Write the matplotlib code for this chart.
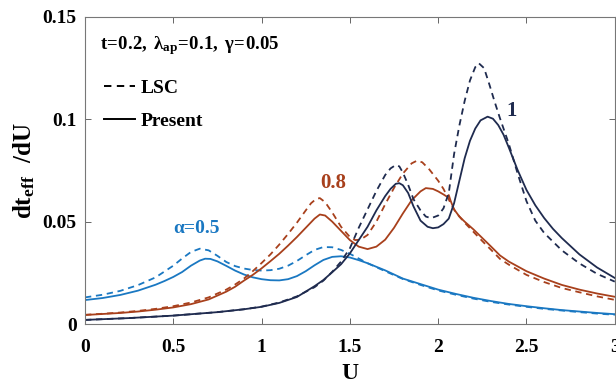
import matplotlib
matplotlib.use("Agg")
import matplotlib.pyplot as plt

plt.rcParams['font.family'] = ['Liberation Serif', 'DejaVu Serif']
plt.rcParams['font.weight'] = 'bold'
plt.rcParams['mathtext.fontset'] = 'custom'
plt.rcParams['mathtext.rm'] = 'Liberation Serif:bold'
plt.rcParams['mathtext.it'] = 'Liberation Serif:bold'
plt.rcParams['mathtext.bf'] = 'Liberation Serif:bold'

# ---- data ----
# alpha = 0.5
u_a05_present = [0, 0.1, 0.2, 0.3, 0.4, 0.45, 0.5, 0.55, 0.6, 0.65, 0.68, 0.71, 0.75, 0.8, 0.85, 0.9, 0.95, 1.0,
                 1.05, 1.1, 1.15, 1.2, 1.25, 1.3, 1.35, 1.4, 1.45, 1.5, 1.55, 1.6, 1.7, 1.8, 1.9, 2.0, 2.1, 2.2,
                 2.3, 2.4, 2.5, 2.6, 2.7, 2.8, 2.9, 3.0]
v_a05_present = [0.0117, 0.0127, 0.0142, 0.0163, 0.0192, 0.0210, 0.0230, 0.0254, 0.0285, 0.0310, 0.0319, 0.0318,
                 0.0306, 0.0284, 0.0261, 0.0242, 0.0228, 0.0219, 0.0214, 0.0213, 0.0219, 0.0234, 0.0258, 0.0287,
                 0.0313, 0.0328, 0.0331, 0.0325, 0.0312, 0.0297, 0.0262, 0.0222, 0.0195, 0.0168, 0.0147, 0.0128,
                 0.0112, 0.0098, 0.0087, 0.0077, 0.0068, 0.0061, 0.0054, 0.0048]
u_a05_lsc = [0, 0.1, 0.2, 0.3, 0.4, 0.5, 0.55, 0.6, 0.65, 0.7, 0.75, 0.8, 0.85, 0.9, 0.95, 1.0, 1.05, 1.1, 1.15,
             1.2, 1.25, 1.3, 1.35, 1.4, 1.45, 1.5, 1.55, 1.6, 1.7, 1.8, 1.9, 2.0, 2.1, 2.2, 2.3, 2.4, 2.5, 2.6,
             2.7, 2.8, 2.9, 3.0]
v_a05_lsc = [0.0130, 0.0143, 0.0162, 0.0190, 0.0228, 0.0285, 0.0320, 0.0352, 0.0368, 0.0360, 0.0333, 0.0303,
             0.0283, 0.0271, 0.0264, 0.0261, 0.0263, 0.0270, 0.0285, 0.0308, 0.0336, 0.0362, 0.0376, 0.0375,
             0.0362, 0.0343, 0.0320, 0.0297, 0.0258, 0.0220, 0.0191, 0.0164, 0.0143, 0.0124, 0.0108, 0.0095,
             0.0084, 0.0074, 0.0066, 0.0058, 0.0051, 0.0045]

# alpha = 0.8
u_a08_present = [0, 0.1, 0.2, 0.3, 0.4, 0.5, 0.6, 0.7, 0.8, 0.85, 0.9, 0.95, 1.0, 1.05, 1.1, 1.15, 1.2, 1.25, 1.3,
                 1.33, 1.36, 1.4, 1.45, 1.5, 1.55, 1.6, 1.65, 1.7, 1.75, 1.8, 1.85, 1.9, 1.93, 1.97, 2.0, 2.03,
                 2.05, 2.06, 2.07, 2.09, 2.12, 2.15, 2.2, 2.25, 2.3, 2.35, 2.4, 2.5, 2.6, 2.7, 2.8, 2.9, 3.0]
v_a08_present = [0.0044, 0.0049, 0.0054, 0.0061, 0.0070, 0.0081, 0.0097, 0.0120, 0.0158, 0.0182, 0.0212, 0.0240,
                 0.0272, 0.0307, 0.0343, 0.0383, 0.0425, 0.0470, 0.0515, 0.0535, 0.0530, 0.0500, 0.0455, 0.0410,
                 0.0378, 0.0366, 0.0378, 0.0412, 0.0470, 0.0540, 0.0605, 0.0648, 0.0664, 0.0660, 0.0648, 0.0633,
                 0.0622, 0.0630, 0.0603, 0.0560, 0.0525, 0.0500, 0.0462, 0.0420, 0.0378, 0.0335, 0.0305, 0.0258,
                 0.0222, 0.0191, 0.0168, 0.0149, 0.0133]
u_a08_lsc = [0, 0.1, 0.2, 0.3, 0.4, 0.5, 0.6, 0.7, 0.8, 0.85, 0.9, 0.95, 1.0, 1.05, 1.1, 1.15, 1.2, 1.25, 1.28,
             1.31, 1.33, 1.36, 1.4, 1.45, 1.5, 1.53, 1.56, 1.6, 1.65, 1.7, 1.75, 1.8, 1.85, 1.88, 1.91, 1.95,
             2.0, 2.03, 2.055, 2.07, 2.1, 2.15, 2.2, 2.25, 2.3, 2.35, 2.4, 2.5, 2.6, 2.7, 2.8, 2.9, 3.0]
v_a08_lsc = [0.0045, 0.0050, 0.0056, 0.0064, 0.0074, 0.0087, 0.0105, 0.0130, 0.0168, 0.0193, 0.0222, 0.0258,
             0.0298, 0.0340, 0.0388, 0.0440, 0.0495, 0.0555, 0.0590, 0.0612, 0.0615, 0.0595, 0.0545, 0.0475,
             0.0425, 0.0410, 0.0412, 0.0435, 0.0500, 0.0585, 0.0665, 0.0735, 0.0785, 0.0798, 0.0790, 0.0755,
             0.0700, 0.0660, 0.0618, 0.0590, 0.0545, 0.0495, 0.0450, 0.0405, 0.0362, 0.0318, 0.0290, 0.0240,
             0.0205, 0.0176, 0.0155, 0.0135, 0.0118]

# alpha = 1
u_a1_present = [0, 0.25, 0.5, 0.75, 0.9, 1.0, 1.1, 1.2, 1.3, 1.35, 1.4, 1.45, 1.5, 1.55, 1.6, 1.65, 1.7, 1.73,
                1.76, 1.78, 1.8, 1.83, 1.86, 1.9, 1.94, 1.97, 2.0, 2.03, 2.06, 2.09, 2.12, 2.15, 2.18, 2.21,
                2.24, 2.28, 2.31, 2.34, 2.37, 2.4, 2.45, 2.5, 2.55, 2.6, 2.65, 2.7, 2.8, 2.9, 3.0]
v_a1_present = [0.0020, 0.0029, 0.0041, 0.0058, 0.0072, 0.0084, 0.0103, 0.0132, 0.0185, 0.0215, 0.0253, 0.0292,
                0.0345, 0.0410, 0.0475, 0.0555, 0.0625, 0.0660, 0.0685, 0.0688, 0.0678, 0.0640, 0.0575, 0.0505,
                0.0475, 0.0468, 0.0472, 0.0488, 0.0515, 0.0590, 0.0700, 0.0810, 0.0895, 0.0955, 0.0995, 0.1013,
                0.1003, 0.0972, 0.0925, 0.0862, 0.0752, 0.0655, 0.0580, 0.0518, 0.0465, 0.0420, 0.0340, 0.0276,
                0.0225]
u_a1_lsc = [0, 0.25, 0.5, 0.75, 0.9, 1.0, 1.1, 1.2, 1.3, 1.35, 1.4, 1.45, 1.5, 1.55, 1.6, 1.65, 1.7, 1.73, 1.76,
            1.78, 1.8, 1.83, 1.86, 1.9, 1.93, 1.96, 2.0, 2.03, 2.06, 2.09, 2.12, 2.15, 2.18, 2.21, 2.23, 2.26,
            2.29, 2.32, 2.35, 2.4, 2.45, 2.5, 2.55, 2.6, 2.7, 2.8, 2.9, 3.0]
v_a1_lsc = [0.0020, 0.0029, 0.0041, 0.0058, 0.0072, 0.0085, 0.0105, 0.0135, 0.0180, 0.0212, 0.0255, 0.0305,
            0.0370, 0.0470, 0.0560, 0.0650, 0.0728, 0.0760, 0.0777, 0.0770, 0.0740, 0.0680, 0.0610, 0.0555,
            0.0525, 0.0517, 0.0530, 0.0565, 0.0640, 0.0830, 0.0970, 0.1090, 0.1190, 0.1255, 0.1274, 0.1250,
            0.1170, 0.1085, 0.1005, 0.0880, 0.0735, 0.0600, 0.0505, 0.0445, 0.0360, 0.0296, 0.0245, 0.0207]

x_ticks = [0, 0.5, 1, 1.5, 2, 2.5, 3]
x_ticklabels = ['0', '0.5', '1', '1.5', '2', '2.5', '3']
y_ticks = [0, 0.05, 0.1, 0.15]
y_ticklabels = ['0', '0.05', '0.1', '0.15']

c_blue = '#1a78c2'
c_red = '#a8401c'
c_navy = '#1f2b4f'

fig = plt.figure(figsize=(6.16, 3.86), dpi=100)
ax = fig.add_axes([0.138, 0.1606, 0.86, 0.7954])

lw = 1.3
dsh = (3.5, 2.6)
ax.plot(u_a05_lsc, v_a05_lsc, '--', color=c_blue, lw=lw, dashes=dsh)
ax.plot(u_a05_present, v_a05_present, '-', color=c_blue, lw=lw)
ax.plot(u_a08_lsc, v_a08_lsc, '--', color=c_red, lw=lw, dashes=dsh)
ax.plot(u_a08_present, v_a08_present, '-', color=c_red, lw=lw)
ax.plot(u_a1_lsc, v_a1_lsc, '--', color=c_navy, lw=lw, dashes=dsh)
ax.plot(u_a1_present, v_a1_present, '-', color=c_navy, lw=lw)

# legend proxies
ax.plot([], [], '--', color='black', lw=1.4, dashes=(3.8, 2.8), label='LSC')
ax.plot([], [], '-', color='black', lw=1.4, label='Present')
ax.legend(loc='center left', frameon=False, fontsize=14, handlelength=1.6, handletextpad=0.3,
          labelspacing=0.8, borderpad=0, borderaxespad=0, bbox_to_anchor=(0.036, 0.715))

ax.text(0.085, 0.1344, r'$\mathrm{t\!=\!0.2,\;\lambda_{ap}\!=\!0.1,\;\gamma\!=\!0.05}$',
        fontsize=13.5, ha='left', va='baseline')

ax.set_xlim(0, 3)
ax.set_ylim(0, 0.15)
ax.set_xticks(x_ticks)
ax.set_xticklabels(x_ticklabels)
ax.set_yticks(y_ticks)
ax.set_yticklabels(y_ticklabels)
ax.tick_params(direction='in', length=4, width=0.7, colors='#666666', labelcolor='black',
               labelsize=14, top=True, right=True)
ax.tick_params(axis='x', pad=11)
ax.tick_params(axis='y', pad=6)
for s in ax.spines.values():
    s.set_color('#777777')
    s.set_linewidth(0.8)

ax.set_xlabel('U', fontsize=17, fontweight='bold', labelpad=5)
ax.set_ylabel(r'$\mathrm{dt_{eff}\ \ /dU}$', fontsize=18, labelpad=4)

ax.text(0.634, 0.0469, 'α=0.5', color=c_blue, fontsize=14, fontweight='bold', ha='center', va='center')
ax.text(1.403, 0.0690, '0.8', color=c_red, fontsize=15, fontweight='bold', ha='center', va='center')
ax.text(2.415, 0.1040, '1', color=c_navy, fontsize=15, fontweight='bold', ha='center', va='center')

fig.savefig('out.png', dpi=100)
